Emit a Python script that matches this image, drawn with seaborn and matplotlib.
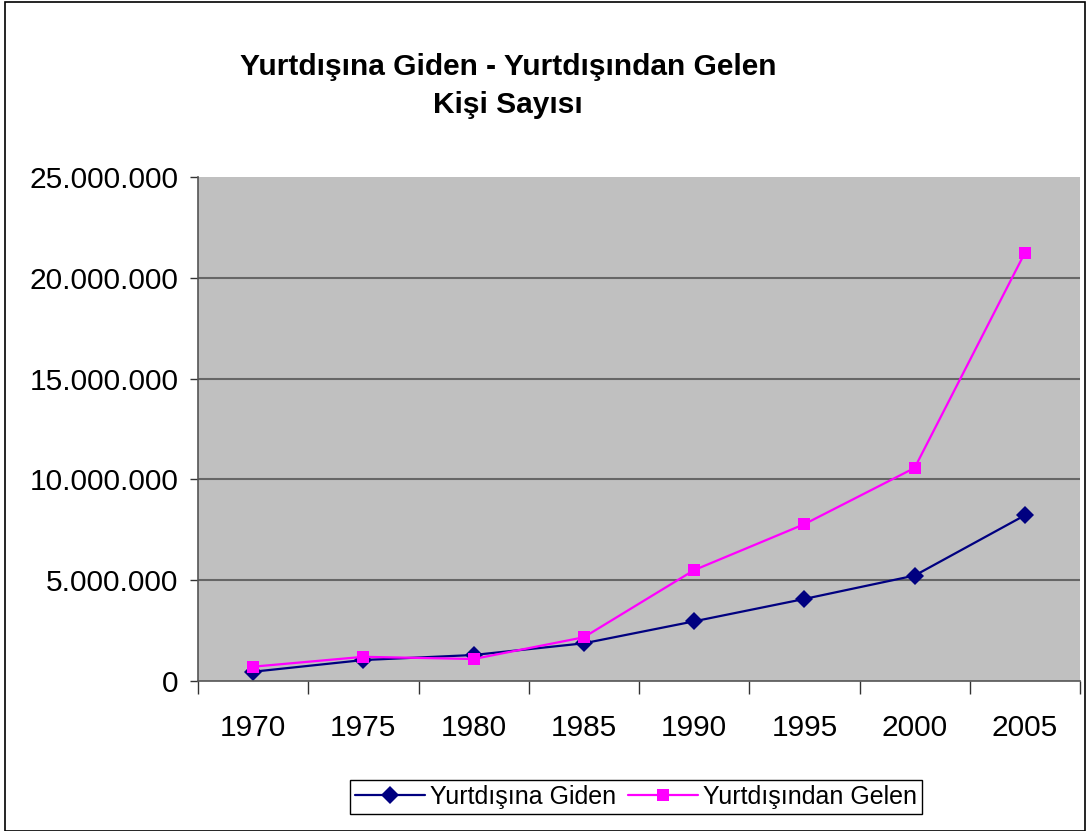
import numpy as np
import pandas as pd
import matplotlib
matplotlib.use("Agg")
import matplotlib.pyplot as plt
from matplotlib.ticker import FuncFormatter, FixedLocator
from matplotlib.patches import Rectangle
import seaborn as sns

# data
years = [1970, 1975, 1980, 1985, 1990, 1995, 2000, 2005]
giden = [460000, 1040000, 1290000, 1870000, 2960000, 4070000, 5230000, 8220000]
gelen = [710000, 1200000, 1090000, 2170000, 5500000, 7780000, 10570000, 21240000]
series_names = ["Yurtdışına Giden", "Yurtdışından Gelen"]
y_ticks = [0, 5000000, 10000000, 15000000, 20000000, 25000000]

df = pd.DataFrame({
    "Yıl": years * 2,
    "Kişi": giden + gelen,
    "Seri": [series_names[0]] * len(years) + [series_names[1]] * len(years),
})

sns.set_theme(style="white")
plt.rcParams['font.family'] = ['Liberation Sans', 'DejaVu Sans']
plt.rcParams['text.color'] = 'black'

fig = plt.figure(figsize=(10.88, 8.31), dpi=100)
ax = fig.add_axes([198 / 1088, 1 - 681 / 831, (1080 - 198) / 1088, (681 - 177) / 831])
ax.set_facecolor("#C0C0C0")

sns.lineplot(data=df, x="Yıl", y="Kişi", hue="Seri", style="Seri",
             palette={series_names[0]: "#000080", series_names[1]: "#FF00FF"},
             markers={series_names[0]: "D", series_names[1]: "s"},
             dashes=False, linewidth=1.6, markersize=9, markeredgewidth=0,
             ax=ax, legend=True)

# y axis
ax.set_ylim(0, 25000000)
ax.set_yticks(y_ticks)
ax.yaxis.set_major_formatter(FuncFormatter(lambda v, p: f"{int(v):,}".replace(",", ".")))
ax.tick_params(axis="y", which="major", left=True, length=6, width=1, color="#333333",
               labelsize=21.5, pad=8, labelcolor="black")
for v in y_ticks[1:-1]:
    ax.axhline(v, color="#666666", lw=1.5, zorder=0.5)

# x axis: category slots, ticks between categories
ax.set_xlim(years[0] - 2.5, years[-1] + 2.5)
ax.xaxis.set_major_locator(FixedLocator([y - 2.5 for y in years] + [years[-1] + 2.5]))
ax.xaxis.set_minor_locator(FixedLocator(years))
ax.set_xticklabels([])
ax.set_xticklabels([str(y) for y in years], minor=True)
ax.tick_params(axis="x", which="major", bottom=True, length=9, width=1, color="#333333")
ax.tick_params(axis="x", which="minor", bottom=False, length=0, labelsize=21.5, pad=24,
               labelcolor="black")

ax.set_xlabel("")
ax.set_ylabel("")
for side in ["top", "right"]:
    ax.spines[side].set_visible(False)
ax.spines["left"].set_color("#555555")
ax.spines["bottom"].set_color("#555555")
ax.spines["left"].set_linewidth(1.2)
ax.spines["bottom"].set_linewidth(1.2)

# legend at bottom
handles, labels = ax.get_legend_handles_labels()
ax.get_legend().remove()
leg = fig.legend(handles, labels, loc="center", bbox_to_anchor=(636 / 1088, 1 - 797 / 831),
                 ncol=2, frameon=True, fancybox=False, edgecolor="black", framealpha=1,
                 fontsize=18, handlelength=2.8, handletextpad=0.2, columnspacing=0.5,
                 borderpad=0.2, borderaxespad=0)
leg.get_frame().set_linewidth(1.0)
for t in leg.get_texts():
    t.set_color("black")

# title
fig.text(508 / 1088, 1 - 86 / 831, "Yurtdışına Giden - Yurtdışından Gelen\nKişi Sayısı",
         ha="center", va="center", fontsize=21.5, fontweight="bold", linespacing=1.42,
         color="black")

# chart border
fig.patches.append(Rectangle((5 / 1088, 0), 1 - 8 / 1088, 1 - 2 / 831,
                             transform=fig.transFigure, fill=False, edgecolor="black", lw=1.2))

plt.savefig("out.png", dpi=100)
plt.close()
